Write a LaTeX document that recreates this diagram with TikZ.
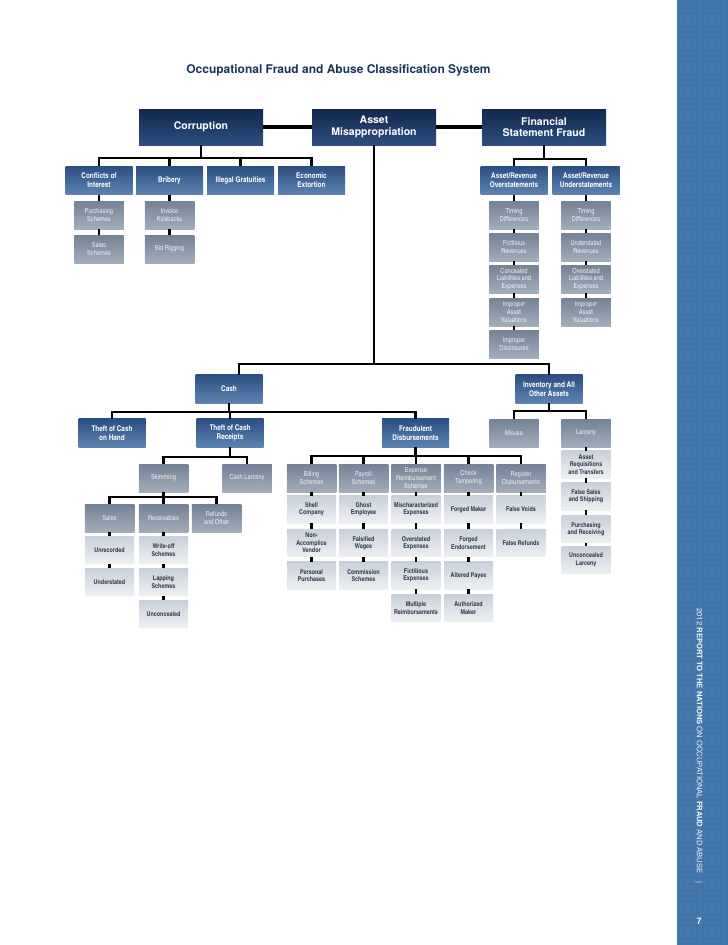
\documentclass[tikz,border=0pt]{standalone}
\usepackage{fontspec}
\setmainfont{TeX Gyre Heros}
\newfontfamily\heroscn{texgyreheroscn}[Extension=.otf, UprightFont=*-regular, BoldFont=*-bold]
\usepackage{xcolor}
\usepackage{tikz}
\definecolor{navytop}{HTML}{12284C}
\definecolor{navybot}{HTML}{2D4E80}
\definecolor{bluetop}{HTML}{2C4F83}
\definecolor{bluebot}{HTML}{5E83B1}
\definecolor{greytop}{HTML}{738296}
\definecolor{greybot}{HTML}{A3ADBA}
\definecolor{leaftop}{HTML}{C9D0D9}
\definecolor{leafbot}{HTML}{EEF0F3}
\definecolor{leaftext}{HTML}{2E3848}
\definecolor{titlenavy}{HTML}{1C3459}
\definecolor{stripblue}{HTML}{4175A9}
\definecolor{striptext}{HTML}{F2F5F9}
\tikzset{
    mainbox/.style={top color=navytop, bottom color=navybot, text=white, align=center, inner sep=1pt, minimum width=124pt, minimum height=36pt, font=\bfseries\fontsize{10.5}{11.5}\selectfont},
    catbox/.style={top color=bluetop, bottom color=bluebot, text=white, align=center, inner sep=1pt, minimum width=67pt, minimum height=28.5pt, font=\heroscn\bfseries\fontsize{7.8}{8.8}\selectfont},
    schbox/.style={top color=greytop, bottom color=greybot, text=white!88!greytop, align=center, inner sep=0.5pt, minimum width=49.5pt, minimum height=28pt, font=\heroscn\fontsize{6.9}{7.7}\selectfont},
    leaf/.style={top color=leaftop, bottom color=leafbot, text=leaftext, align=center, inner sep=0.5pt, minimum width=49pt, minimum height=27.5pt, font=\heroscn\bfseries\fontsize{6.6}{7.4}\selectfont},
    link/.style={line width=2.6pt},
    mainlink/.style={line width=4pt}
}
\begin{document}
\begin{tikzpicture}[x=1pt, y=-1pt]
    \useasboundingbox (0,0) rectangle (728,945);
    \fill[stripblue] (677,0) rectangle (728,945);
    \foreach \i in {0,...,7} \foreach \j in {0,...,156} \fill[white, opacity=0.025] ({680+6*\i},{3+6*\j}) rectangle ++(3.5,3.5);
    \node[rotate=-90, anchor=west, text=striptext, font=\fontsize{7.6}{9}\selectfont] (report) at (699,605) {2012 \textbf{REPORT TO THE NATIONS} ON OCCUPATIONAL \textbf{FRAUD} AND ABUSE\quad|};
    \node[text=striptext, font=\bfseries\fontsize{9}{10}\selectfont] (pagenum) at (699,921) {7};

    \node[font=\bfseries\fontsize{12}{14}\selectfont, text=titlenavy] (title) at (338.5,70) {Occupational Fraud and Abuse Classification System};

    \node[mainbox] (corr) at (201,127) {Corruption};
    \node[mainbox] (asset) at (374,127) {Asset\\Misappropriation};
    \node[mainbox] (fsf) at (544,127) {Financial\\Statement Fraud};

    \node[catbox] (coi) at (99,180.5) {Conflicts of\\Interest};
    \node[catbox] (bribery) at (169.5,180.5) {Bribery};
    \node[catbox] (illegal) at (240.5,180.5) {Illegal Gratuities};
    \node[catbox] (extortion) at (311.5,180.5) {Economic\\Extortion};
    \node[schbox] (purch) at (99,215) {Purchasing\\Schemes};
    \node[schbox] (salesch) at (99,249) {Sales\\Schemes};
    \node[schbox] (invoice) at (169.5,215) {Invoice\\Kickbacks};
    \node[schbox] (bidrig) at (169.5,249) {Bid Rigging};

    \node[catbox] (over) at (514,180.5) {Asset/Revenue\\Overstatements};
    \node[catbox] (under) at (586,180.5) {Asset/Revenue\\Understatements};
    \node[schbox] (otiming) at (514,215) {Timing\\Differences};
    \node[schbox] (ofict) at (514,247) {Fictitious\\Revenues};
    \node[schbox] (oconc) at (514,279) {Concealed\\Liabilities and\\Expenses};
    \node[schbox] (oval) at (514,312) {Improper\\Asset\\Valuations};
    \node[schbox] (odisc) at (514,344) {Improper\\Disclosures};
    \node[schbox] (utiming) at (586,215) {Timing\\Differences};
    \node[schbox] (urev) at (586,247) {Understated\\Revenues};
    \node[schbox] (uliab) at (586,279) {Overstated\\Liabilities and\\Expenses};
    \node[schbox] (uval) at (586,312) {Improper\\Asset\\Valuations};

    \node[catbox] (cash) at (229,389) {Cash};
    \node[catbox] (inventory) at (549,389) {Inventory and All\\Other Assets};
    \node[catbox] (onhand) at (112,433) {Theft of Cash\\on Hand};
    \node[catbox] (receipts) at (230,433) {Theft of Cash\\Receipts};
    \node[catbox] (disb) at (415.5,433) {Fraudulent\\Disbursements};
    \node[schbox] (misuse) at (514,433) {Misuse};
    \node[schbox] (larceny) at (586,433) {Larceny};
    \node[leaf] (requis) at (586,464.5) {Asset\\Requisitions\\and Transfers};
    \node[leaf] (falsesales) at (586,496.5) {False Sales\\and Shipping};
    \node[leaf] (purchrec) at (586,529) {Purchasing\\and Receiving};
    \node[leaf] (unconlarc) at (586,560) {Unconcealed\\Larceny};

    \node[schbox] (skimming) at (163.5,478) {Skimming};
    \node[schbox] (cashlarc) at (247,478) {Cash Larceny};
    \node[schbox] (sales) at (109.5,518) {Sales};
    \node[schbox] (receiv) at (163.5,518) {Receivables};
    \node[schbox] (refunds) at (216.5,518) {Refunds\\and Other};
    \node[leaf] (unrec) at (109.5,550) {Unrecorded};
    \node[leaf] (understated) at (109.5,582) {Understated};
    \node[leaf] (writeoff) at (163.5,550) {Write-off\\Schemes};
    \node[leaf] (lapping) at (163.5,582) {Lapping\\Schemes};
    \node[leaf] (unconcealed) at (163.5,614) {Unconcealed};

    \node[schbox] (billing) at (311.5,478) {Billing\\Schemes};
    \node[schbox] (payroll) at (363.5,478) {Payroll\\Schemes};
    \node[schbox] (expense) at (416,478) {Expense\\Reimbursement\\Schemes};
    \node[schbox] (check) at (468.5,478) {Check\\Tampering};
    \node[schbox] (register) at (521,478) {Register\\Disbursements};
    \node[leaf] (shell) at (311.5,509.5) {Shell\\Company};
    \node[leaf] (nonacc) at (311.5,543) {Non-\\Accomplice\\Vendor};
    \node[leaf] (personal) at (311.5,575.5) {Personal\\Purchases};
    \node[leaf] (ghost) at (363.5,509.5) {Ghost\\Employee};
    \node[leaf] (wages) at (363.5,543) {Falsified\\Wages};
    \node[leaf] (commission) at (363.5,575.5) {Commission\\Schemes};
    \node[leaf] (mischar) at (416,509.5) {Mischaracterized\\Expenses};
    \node[leaf] (overexp) at (416,543) {Overstated\\Expenses};
    \node[leaf] (fictexp) at (416,575.5) {Fictitious\\Expenses};
    \node[leaf] (multiple) at (416,608) {Multiple\\Reimbursements};
    \node[leaf] (forgedmaker) at (468.5,509.5) {Forged Maker};
    \node[leaf] (forgedend) at (468.5,543) {Forged\\Endorsement};
    \node[leaf] (altered) at (468.5,575.5) {Altered Payee};
    \node[leaf] (authorized) at (468.5,608) {Authorized\\Maker};
    \node[leaf] (voids) at (521,509.5) {False Voids};
    \node[leaf] (falserefunds) at (521,543) {False Refunds};

    \coordinate (corrbus) at (201,158);
    \coordinate (fsfbus) at (544,159);
    \coordinate (assetjoin) at (374,364);
    \coordinate (cashbus) at (229,412);
    \coordinate (invbus) at (549,411);
    \coordinate (rcptbus) at (230,457);
    \coordinate (skimbus) at (163.5,497);
    \coordinate (disbbus) at (415.5,456);

    \draw[mainlink] (corr) -- (asset);
    \draw[mainlink] (asset) -- (fsf);

    \draw[link] (corr) -- (corrbus);
    \foreach \c in {coi,bribery,illegal,extortion} \draw[link] (corrbus) -| (\c);
    \draw[link] (coi) -- (purch) -- (salesch);
    \draw[link] (bribery) -- (invoice) -- (bidrig);

    \draw[link] (fsf) -- (fsfbus);
    \foreach \c in {over,under} \draw[link] (fsfbus) -| (\c);
    \draw[link] (over) -- (otiming) -- (ofict) -- (oconc) -- (oval) -- (odisc);
    \draw[link] (under) -- (utiming) -- (urev) -- (uliab) -- (uval);

    \draw[link] (asset) -- (assetjoin);
    \draw[link] (assetjoin) -| ([xshift=10pt]cash.north);
    \draw[link] (assetjoin) -| (inventory);

    \draw[link] (cash) -- (cashbus);
    \foreach \c in {onhand,receipts,disb} \draw[link] (cashbus) -| (\c);
    \draw[link] (inventory) -- (invbus);
    \foreach \c in {misuse,larceny} \draw[link] (invbus) -| (\c);
    \draw[link] (larceny) -- (requis) -- (falsesales) -- (purchrec) -- (unconlarc);

    \draw[link] (receipts) -- (rcptbus);
    \foreach \c in {skimming,cashlarc} \draw[link] (rcptbus) -| (\c);
    \draw[link] (skimming) -- (skimbus);
    \foreach \c in {sales,receiv,refunds} \draw[link] (skimbus) -| (\c);
    \draw[link] (sales) -- (unrec) -- (understated);
    \draw[link] (receiv) -- (writeoff) -- (lapping) -- (unconcealed);

    \draw[link] (disb) -- (disbbus);
    \foreach \c in {billing,payroll,expense,check,register} \draw[link] (disbbus) -| (\c);
    \draw[link] (billing) -- (shell) -- (nonacc) -- (personal);
    \draw[link] (payroll) -- (ghost) -- (wages) -- (commission);
    \draw[link] (expense) -- (mischar) -- (overexp) -- (fictexp) -- (multiple);
    \draw[link] (check) -- (forgedmaker) -- (forgedend) -- (altered) -- (authorized);
    \draw[link] (register) -- (voids) -- (falserefunds);
\end{tikzpicture}
\end{document}
